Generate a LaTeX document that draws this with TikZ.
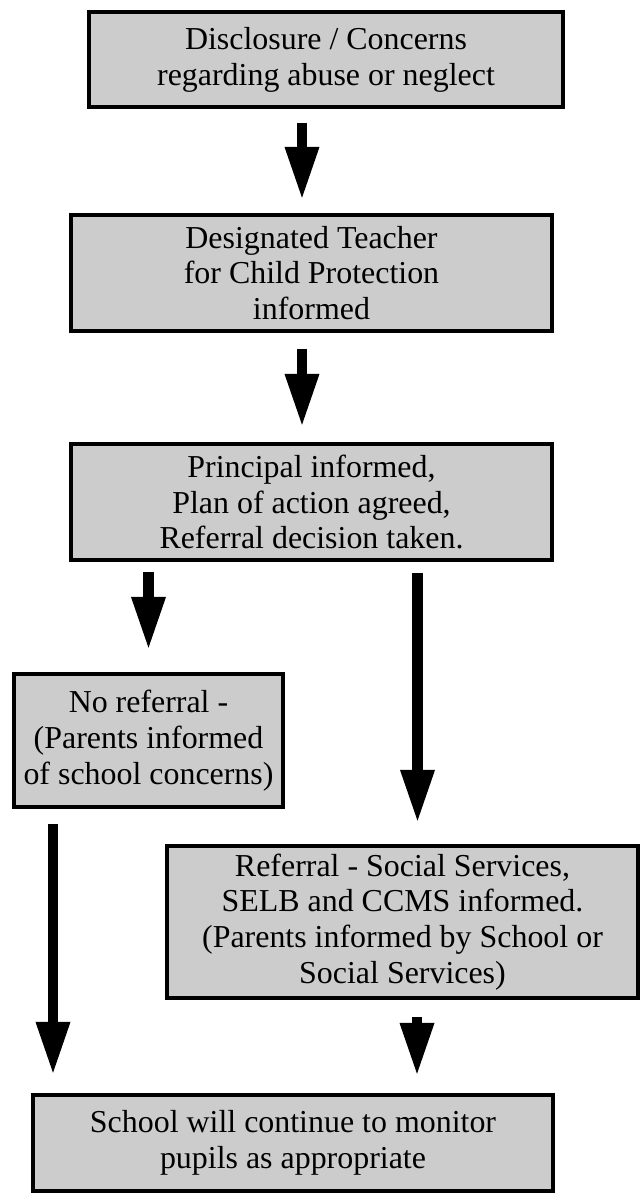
\documentclass[tikz,border=0pt]{standalone}
\usepackage{fontspec}
\setmainfont{Liberation Serif}
\usetikzlibrary{arrows.meta,calc}

\tikzset{
  stepbox/.style={draw, line width=1mm, fill=black!20, align=center, inner sep=0pt,
    font=\fontsize{22.7}{25.5}\selectfont},
  bigarrow/.style={line width=2.6mm, -{Triangle[width=7.9mm,length=13.25mm]}},
}

\begin{document}
\begin{tikzpicture}[x=0.025cm,y=-0.025cm]
\useasboundingbox (0,0) rectangle (642,1195);

% boxes
\node[stepbox, minimum width=11.85cm, minimum height=2.375cm] (disclosure) at (326,59.5)
  {Disclosure / Concerns\\regarding abuse or neglect};
\node[stepbox, minimum width=12.025cm, minimum height=2.9cm] (teacher) at (311.5,273)
  {Designated Teacher\\for Child Protection\\informed};
\node[stepbox, minimum width=12.025cm, minimum height=2.9cm] (principal) at (311.5,502)
  {Principal informed,\\Plan of action agreed,\\Referral decision taken.};
\node[stepbox, minimum width=6.725cm, minimum height=3.325cm] (noref) at (148.5,740.5)
  {No referral -\\(Parents informed\\of school concerns)};
\node[stepbox, minimum width=11.775cm, minimum height=3.8cm] (referral) at (402.5,922)
  {Referral - Social Services,\\SELB and CCMS informed.\\(Parents informed by School or\\Social Services)};
\node[stepbox, minimum width=13cm, minimum height=2.4cm] (monitor) at (293,1143)
  {School will continue to monitor\\pupils as appropriate};

% arrow ends off the box centres
\coordinate (tin) at ($(teacher.north)+(-9.5,0)$);
\coordinate (rin) at ($(referral.north)+(15,0)$);
\coordinate (lin) at ($(monitor.north)+(-240,0)$);
\coordinate (rout) at ($(monitor.north)+(124,0)$);

% arrows
\draw[bigarrow, shorten <=.35cm, shorten >=.325cm] (disclosure.south -| tin) -- (tin);
\draw[bigarrow, shorten <=.4cm, shorten >=.375cm] (teacher.south -| tin) -- (principal.north -| tin);
\draw[bigarrow, shorten <=.25cm, shorten >=.55cm] (principal.south -| noref.north) -- (noref.north);
\draw[bigarrow, shorten <=.275cm, shorten >=.525cm] (principal.south -| rin) -- (rin);
\draw[bigarrow, shorten <=.375cm, shorten >=.45cm] (noref.south -| lin) -- (lin);
\draw[bigarrow, shorten <=.425cm, shorten >=.425cm] (referral.south -| rout) -- (rout);
\end{tikzpicture}
\end{document}
